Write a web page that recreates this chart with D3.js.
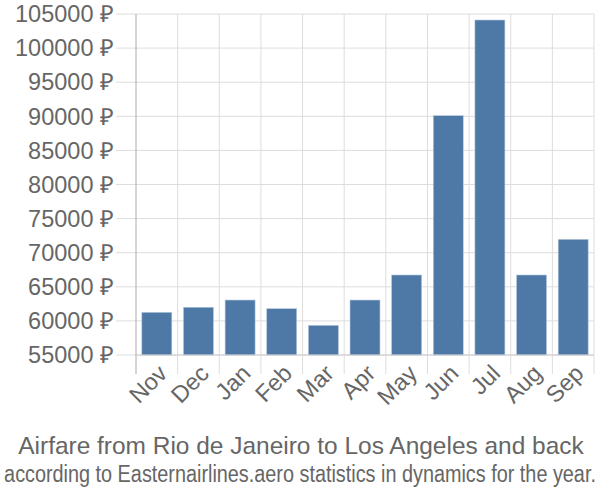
<!DOCTYPE html>
<html><head><meta charset="utf-8">
<script src="https://cdn.jsdelivr.net/npm/d3@7"></script>
<style>body{margin:0;background:#fff}svg{display:block}</style>
</head><body>
<svg id="c" width="600" height="500"></svg>
<script>
const categories = ["Nov","Dec","Jan","Feb","Mar","Apr","May","Jun","Jul","Aug","Sep"];
const prices = [61260, 62000, 63060, 61790, 59350, 63060, 66730, 90090, 104120, 66730, 71960];
const yTicks = [55000,60000,65000,70000,75000,80000,85000,90000,95000,100000,105000];
const title = "Airfare from Rio de Janeiro to Los Angeles and back";
const subtitle = "according to Easternairlines.aero statistics in dynamics for the year.";

const svg = d3.select("#c");
const L = 136, R = 594, T = 14, B = 355;
const x = d3.scaleBand().domain(categories).range([L, R]).paddingInner(0.28).paddingOuter(0.14);
const xg = d3.scaleBand().domain(categories).range([L, R]);
const y = d3.scaleLinear().domain([55000, 105000]).range([B, T]);
const font = "'Liberation Sans', Arial, sans-serif";
const gray = "#666";

// horizontal grid
svg.append("g").selectAll("line").data(yTicks).join("line")
  .attr("x1", 116).attr("x2", R).attr("y1", d => y(d)).attr("y2", d => y(d))
  .attr("stroke", "#ddd").attr("stroke-width", 1);
// vertical grid
const vx = categories.map(c => xg(c)).concat([R]);
svg.append("g").selectAll("line").data(vx.slice(1)).join("line")
  .attr("x1", d => d).attr("x2", d => d).attr("y1", T).attr("y2", B + 19)
  .attr("stroke", "#ddd").attr("stroke-width", 1);
// y axis line
svg.append("line").attr("x1", L).attr("x2", L).attr("y1", T).attr("y2", B + 19)
  .attr("stroke", "#aaa").attr("stroke-width", 1);
// y labels
svg.append("g").selectAll("text").data(yTicks).join("text")
  .attr("x", 114).attr("y", d => y(d)).attr("dy", "0.35em")
  .attr("text-anchor", "end").attr("font-family", font).attr("font-size", 23.5)
  .attr("fill", gray).text(d => d + " ₽");
// bars
svg.append("g").selectAll("rect").data(prices).join("rect")
  .attr("x", (d, i) => x(categories[i])).attr("width", x.bandwidth())
  .attr("y", d => y(d)).attr("height", d => B - y(d))
  .attr("fill", "#4e79a7").attr("stroke", "#b7c9dd").attr("stroke-width", 0.6);
// baseline
svg.append("line").attr("x1", L).attr("x2", R).attr("y1", B).attr("y2", B)
  .attr("stroke", "#ccc").attr("stroke-width", 1);
// x labels
svg.append("g").selectAll("text").data(categories).join("text")
  .attr("transform", d => `translate(${xg(d) + xg.bandwidth()/2 + 6},${B + 14}) rotate(-45)`)
  .attr("text-anchor", "end").attr("dy", "0.35em")
  .attr("font-family", font).attr("font-size", 23.5).attr("fill", gray).text(d => d);
// titles
function fitText(txt, cx, cy, size, width) {
  const t = svg.append("text").attr("x", 0).attr("y", 0).attr("text-anchor", "middle")
    .attr("font-family", font).attr("font-size", size).attr("fill", gray).text(txt);
  const w = t.node().getComputedTextLength();
  const s = Math.min(1.2, width / w);
  t.attr("transform", `translate(${cx},${cy}) scale(${s},1)`);
}
fitText(title, 301, 454, 24, 566);
fitText(subtitle, 300, 482, 23, 592);
</script>
</body></html>
